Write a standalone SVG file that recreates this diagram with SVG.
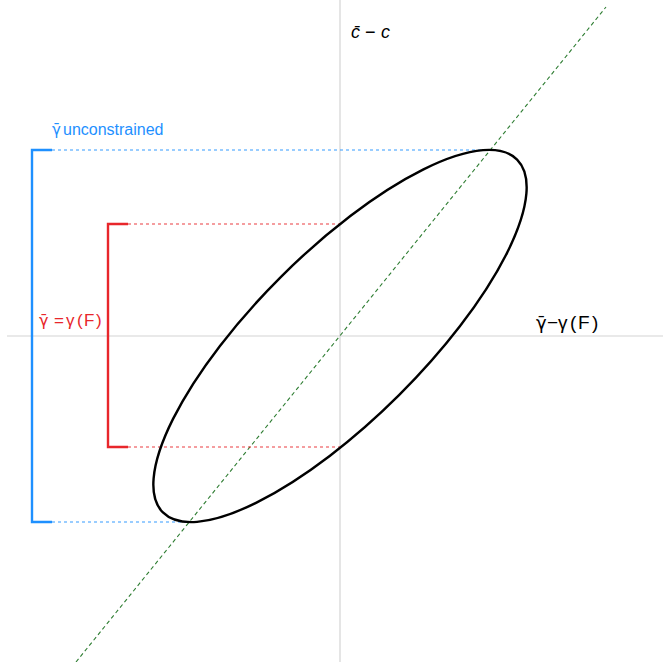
<svg xmlns="http://www.w3.org/2000/svg" width="663" height="662" viewBox="0 0 663 662">
<style>
.axis{stroke:#d4d4d4;stroke-width:1.2;fill:none}
.blue{stroke:#1e90ff;fill:none}
.red{stroke:#e8262b;fill:none}
.t{font-family:"Liberation Sans",Arial,sans-serif}
.g{font-family:"DejaVu Sans","Liberation Sans",sans-serif}
</style>
<rect width="663" height="662" fill="#ffffff"/>
<g id="axes">
<line class="axis" x1="7" y1="336" x2="663" y2="336"/>
<line class="axis" x1="340" y1="0" x2="340" y2="662"/>
</g>
<g id="connectors">
<line x1="76" y1="662" x2="606" y2="7" stroke="#2e7d32" stroke-width="1.1" stroke-dasharray="4,3"/>
<line class="blue" x1="52" y1="150" x2="489" y2="150" stroke-width="1" stroke-dasharray="3,3" opacity="0.9"/>
<line class="blue" x1="52" y1="522" x2="191" y2="522" stroke-width="1" stroke-dasharray="3,3" opacity="0.9"/>
<line class="red" x1="128" y1="224" x2="340" y2="224" stroke-width="1" stroke-dasharray="3,3" opacity="0.9"/>
<line class="red" x1="128" y1="447" x2="340" y2="447" stroke-width="1" stroke-dasharray="3,3" opacity="0.9"/>
</g>
<g id="ellipse">
<ellipse cx="340" cy="336" rx="250" ry="83.6" transform="rotate(-44.9 340 336)" fill="none" stroke="#000" stroke-width="2.4"/>
</g>
<g id="bracket-unconstrained">
<polyline class="blue" points="52,150 32,150 32,522 52,522" stroke-width="2.4"/>
<text class="t" y="135" font-size="16" fill="#1e90ff"><tspan class="g" x="52" font-size="15">γ̄</tspan><tspan x="63">unconstrained</tspan></text>
</g>
<g id="bracket-constrained">
<polyline class="red" points="128,224 108,224 108,447 128,447" stroke-width="2.4"/>
<text class="t" y="326" font-size="17" fill="#e8262b"><tspan class="g" x="39" font-size="16">γ̄</tspan><tspan x="54">=</tspan><tspan x="66">γ</tspan><tspan x="77">(</tspan><tspan x="84">F</tspan><tspan x="96">)</tspan></text>
</g>
<g id="labels">
<text class="t" y="38" font-size="18" fill="#000"><tspan x="351" font-style="italic">c̄</tspan><tspan x="365">−</tspan><tspan x="381" font-style="italic">c</tspan></text>
<text class="t" y="329" font-size="19" fill="#000"><tspan class="g" x="536" font-size="18">γ̄</tspan><tspan x="547">−</tspan><tspan x="558">γ</tspan><tspan x="570">(</tspan><tspan x="578">F</tspan><tspan x="592">)</tspan></text>
</g>
</svg>
